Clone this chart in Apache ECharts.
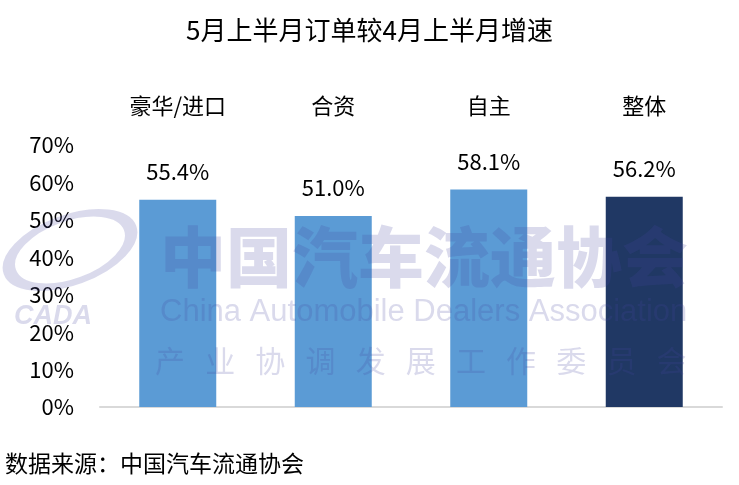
<!DOCTYPE html>
<html>
<head>
<meta charset="utf-8">
<script src="https://cdn.jsdelivr.net/npm/echarts@6/dist/echarts.min.js"></script>
<style>html,body{margin:0;padding:0;background:#fff}#c{width:739px;height:485px}</style>
</head>
<body>
<div id="c"></div>
<script>
const categories = ['豪华/进口', '合资', '自主', '整体'];
const growth = [55.4, 51.0, 58.1, 56.2];
const barColors = ['#5b9bd5', '#5b9bd5', '#5b9bd5', '#203864'];
const yTicks = [0, 10, 20, 30, 40, 50, 60, 70];
const titleText = '5月上半月订单较4月上半月增速';
const sourceText = '数据来源：中国汽车流通协会';

const FONT = '"Noto Sans CJK SC", "Noto Sans", sans-serif';
const chart = echarts.init(document.getElementById('c'));
const wm = 'rgba(70,70,160,0.2)';
const wmText = (x, y, text, font) => ({
  type: 'text', x, y, silent: true,
  style: { text, font, fill: wm, align: 'left', verticalAlign: 'top' }
});
chart.setOption({
  backgroundColor: '#fff',
  animation: false,
  title: {
    text: titleText, left: 'center', top: 12,
    textStyle: { fontFamily: FONT, fontSize: 26, fontWeight: 'normal', color: '#000' }
  },
  grid: { left: 100, right: 17, top: 145, bottom: 78 },
  xAxis: [{
    type: 'category', data: categories, position: 'top',
    axisLine: { show: false }, axisTick: { show: false },
    axisLabel: { margin: 28, fontFamily: FONT, fontSize: 22, color: '#000' }
  }, {
    type: 'category', data: categories, position: 'bottom',
    axisLine: { show: true, lineStyle: { color: '#d9d9d9', width: 2 } },
    axisTick: { show: false }, axisLabel: { show: false }
  }],
  yAxis: {
    type: 'value', min: yTicks[0], max: yTicks[yTicks.length - 1], interval: 10,
    splitLine: { show: false }, axisLine: { show: false }, axisTick: { show: false },
    axisLabel: { margin: 26, fontFamily: FONT, fontSize: 22, color: '#000', formatter: v => v + '%' }
  },
  series: [{
    type: 'bar', barWidth: 77, z: 2, xAxisIndex: 0,
    data: growth.map((v, i) => ({ value: v, itemStyle: { color: barColors[i] } })),
    label: {
      show: true, position: 'top', distance: 17,
      fontFamily: FONT, fontSize: 22, color: '#000',
      formatter: p => p.value.toFixed(1) + '%'
    }
  }, {
    type: 'custom', coordinateSystem: 'none', z: 10, silent: true, data: [0],
    renderItem: () => ({
      type: 'group', silent: true,
      children: [
        { type: 'group', x: 70, y: 250, rotation: 0.35, children: [
          { type: 'circle', shape: { cx: 0, cy: 0, r: 64 }, scaleY: 0.5, style: { fill: 'none', stroke: wm, lineWidth: 13 } }
        ]},
        wmText(160, 224, '中国汽车流通协会', '900 66px ' + FONT),
        wmText(160, 297, 'China Automobile Dealers Association', '31px "Liberation Sans", Arial, sans-serif'),
        wmText(155, 346, '产   业   协   调   发   展   工   作   委   员   会', '30px ' + FONT),
        wmText(14, 303, 'CADA', 'italic 900 27px "Liberation Sans", Arial, sans-serif')
      ]
    })
  }],
  graphic: [
    { type: 'text', left: 5, top: 452, style: { text: sourceText, font: '23px ' + FONT, fill: '#000' } }
  ]
});
</script>
</body>
</html>
